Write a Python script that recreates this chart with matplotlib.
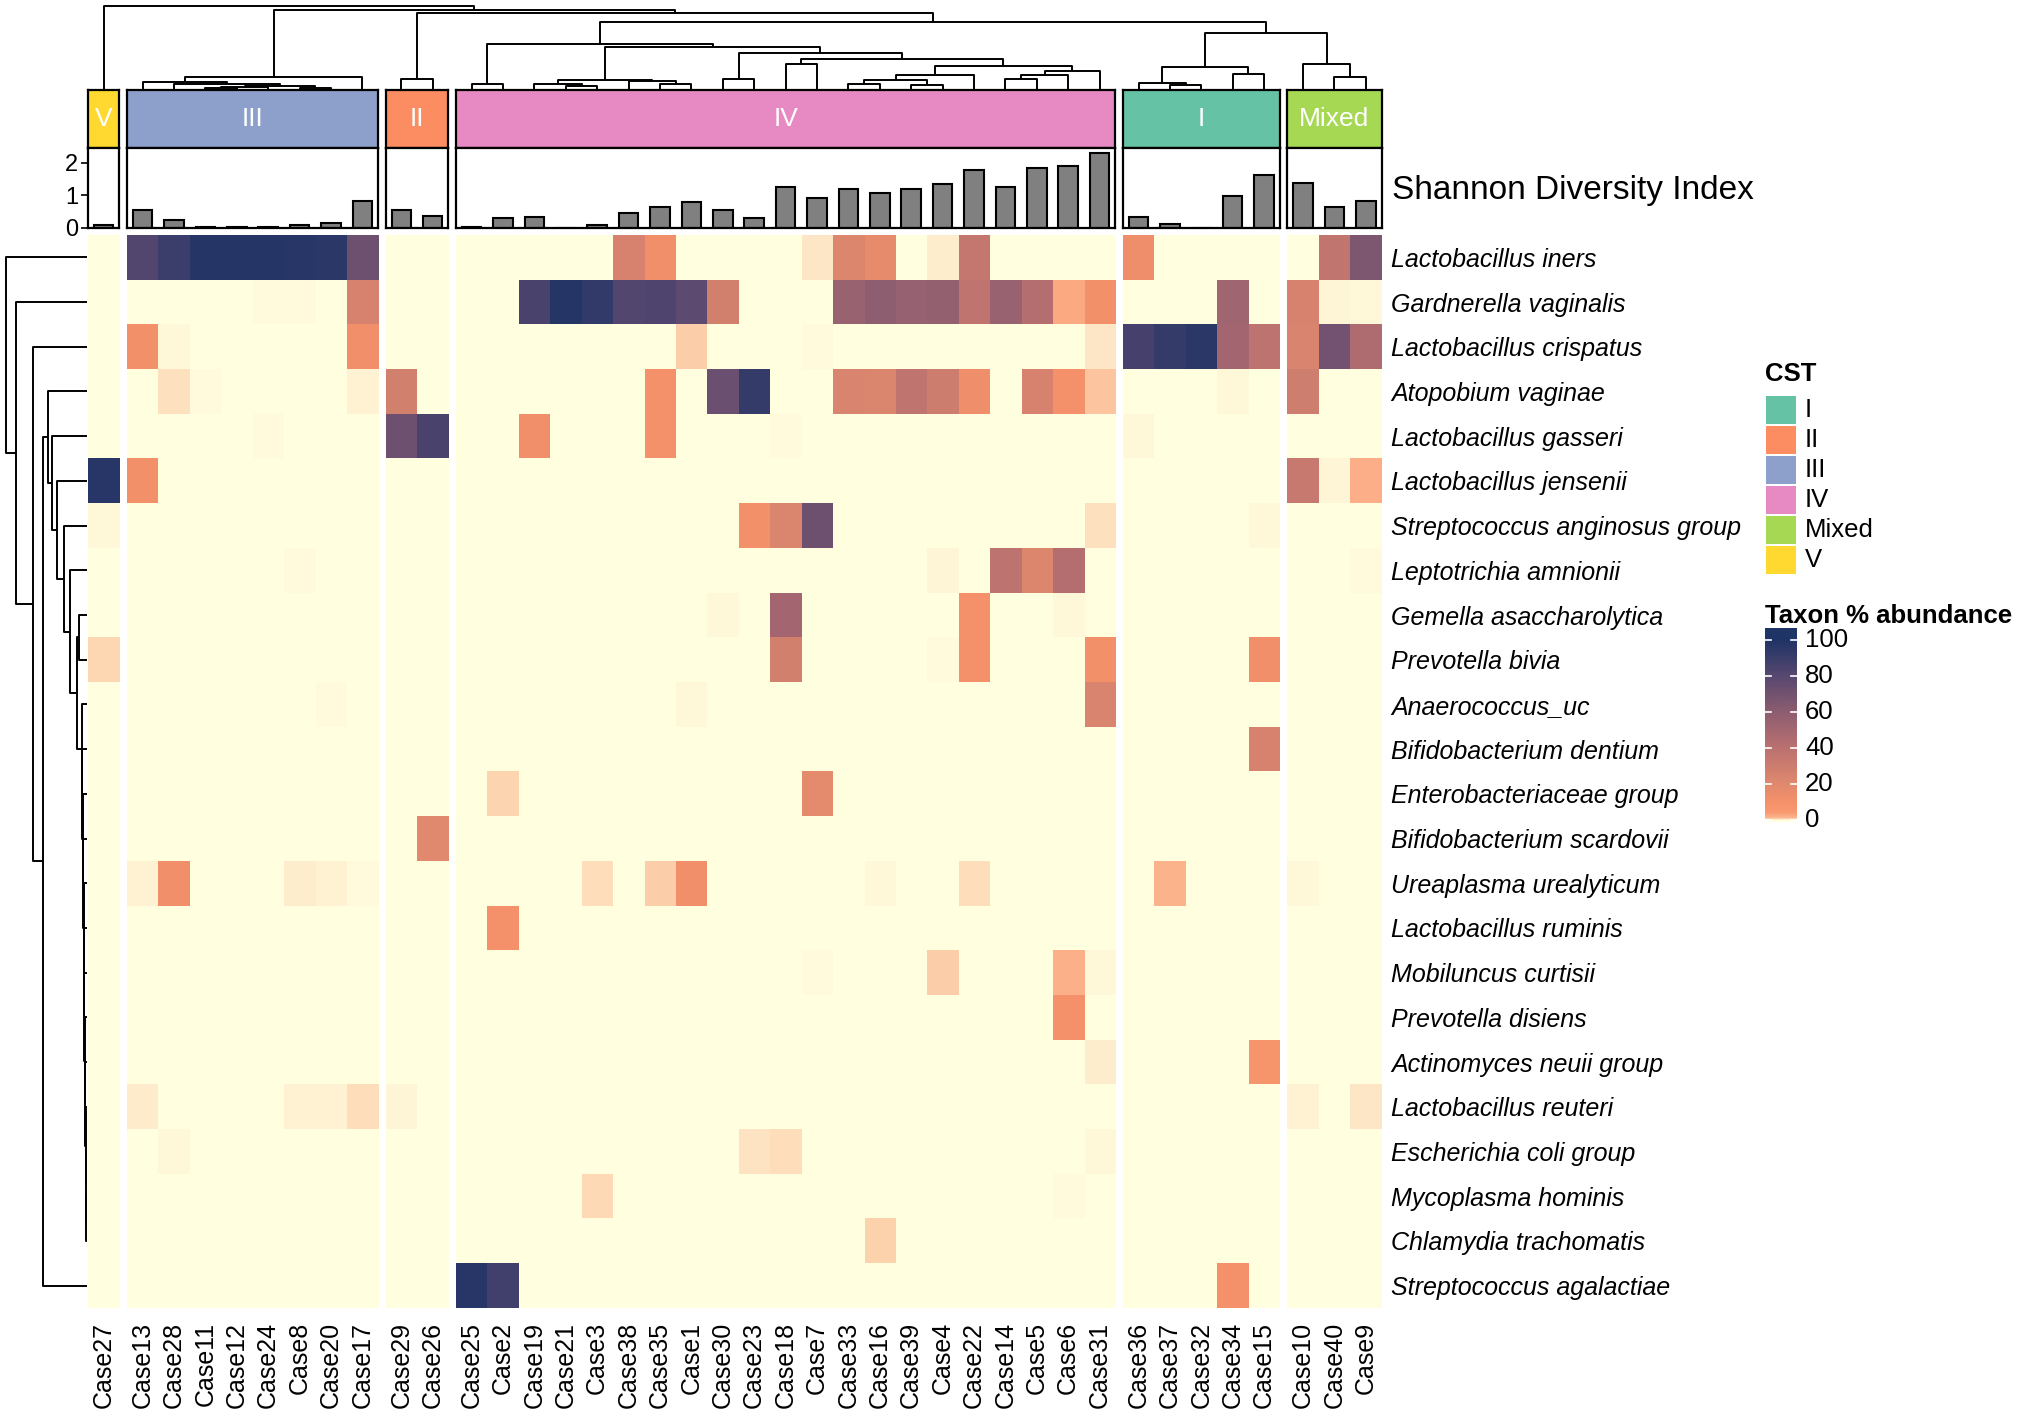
import numpy as np
import matplotlib
matplotlib.use("Agg")
from matplotlib import pyplot as plt
from matplotlib.colors import LinearSegmentedColormap, Normalize
from matplotlib.patches import Rectangle

plt.rcParams["font.family"] = ["Liberation Sans", "DejaVu Sans"]

# ---- data -------------------------------------------------------------
cases = ["Case27",
         "Case13", "Case28", "Case11", "Case12", "Case24", "Case8", "Case20", "Case17",
         "Case29", "Case26",
         "Case25", "Case2", "Case19", "Case21", "Case3", "Case38", "Case35", "Case1",
         "Case30", "Case23", "Case18", "Case7", "Case33", "Case16", "Case39", "Case4",
         "Case22", "Case14", "Case5", "Case6", "Case31",
         "Case36", "Case37", "Case32", "Case34", "Case15",
         "Case10", "Case40", "Case9"]

cst = (["V"] + ["III"] * 8 + ["II"] * 2 + ["IV"] * 21 + ["I"] * 5 + ["Mixed"] * 3)

shannon = [0.10,
           0.54, 0.26, 0.02, 0.02, 0.04, 0.08, 0.16, 0.82,
           0.56, 0.37,
           0.03, 0.31, 0.33, 0.00, 0.10, 0.45, 0.64, 0.79, 0.55, 0.31, 1.26,
           0.93, 1.21, 1.08, 1.21, 1.36, 1.77, 1.26, 1.84, 1.91, 2.32,
           0.33, 0.12, 0.01, 0.97, 1.63,
           1.39, 0.66, 0.82]

taxa = ["Lactobacillus iners", "Gardnerella vaginalis", "Lactobacillus crispatus",
        "Atopobium vaginae", "Lactobacillus gasseri", "Lactobacillus jensenii",
        "Streptococcus anginosus group", "Leptotrichia amnionii",
        "Gemella asaccharolytica", "Prevotella bivia", "Anaerococcus_uc",
        "Bifidobacterium dentium", "Enterobacteriaceae group",
        "Bifidobacterium scardovii", "Ureaplasma urealyticum",
        "Lactobacillus ruminis", "Mobiluncus curtisii", "Prevotella disiens",
        "Actinomyces neuii group", "Lactobacillus reuteri",
        "Escherichia coli group", "Mycoplasma hominis",
        "Chlamydia trachomatis", "Streptococcus agalactiae"]

# taxon % abundance (cells not listed are 0)
abundance = {
    "Lactobacillus iners": {"Case13": 82, "Case28": 90, "Case11": 98, "Case12": 98,
                            "Case24": 98, "Case8": 97, "Case20": 96, "Case17": 72,
                            "Case38": 25, "Case35": 12, "Case7": 0.25, "Case33": 22,
                            "Case16": 17, "Case4": 0.15, "Case22": 35, "Case36": 13,
                            "Case40": 36, "Case9": 66},
    "Gardnerella vaginalis": {"Case17": 25, "Case2": 0.02, "Case19": 85, "Case21": 98,
                              "Case3": 93, "Case38": 82, "Case35": 83, "Case1": 78,
                              "Case30": 27, "Case33": 55, "Case16": 60, "Case39": 56,
                              "Case4": 57, "Case22": 37, "Case14": 55, "Case5": 42,
                              "Case6": 2.5, "Case31": 11, "Case34": 52, "Case10": 25,
                              "Case40": 0.08, "Case9": 0.05, "Case24": 0.03,
                              "Case8": 0.03},
    "Lactobacillus crispatus": {"Case13": 11, "Case28": 0.05, "Case17": 12, "Case1": 0.7,
                                "Case31": 0.25, "Case7": 0.03, "Case36": 86,
                                "Case37": 92, "Case32": 96, "Case34": 50, "Case15": 38,
                                "Case10": 24, "Case40": 70, "Case9": 45},
    "Atopobium vaginae": {"Case28": 0.35, "Case17": 0.12, "Case11": 0.03, "Case29": 27,
                          "Case35": 10, "Case30": 73, "Case23": 92, "Case33": 24,
                          "Case16": 23, "Case39": 37, "Case4": 30, "Case22": 13,
                          "Case5": 25, "Case6": 10, "Case31": 0.9, "Case34": 0.05,
                          "Case10": 29},
    "Lactobacillus gasseri": {"Case24": 0.03, "Case29": 72, "Case26": 85, "Case19": 12,
                              "Case35": 10, "Case18": 0.03, "Case36": 0.05},
    "Lactobacillus jensenii": {"Case27": 97, "Case13": 11, "Case38": 0.02, "Case10": 33,
                               "Case40": 0.08, "Case9": 2},
    "Streptococcus anginosus group": {"Case27": 0.05, "Case23": 11, "Case18": 23,
                                      "Case7": 72, "Case31": 0.35, "Case15": 0.05},
    "Leptotrichia amnionii": {"Case8": 0.03, "Case4": 0.08, "Case14": 38, "Case5": 22,
                              "Case6": 42, "Case9": 0.04},
    "Gemella asaccharolytica": {"Case30": 0.06, "Case18": 50, "Case22": 10,
                                "Case6": 0.05},
    "Prevotella bivia": {"Case27": 0.5, "Case33": 0.02, "Case4": 0.03, "Case18": 27,
                         "Case22": 10, "Case31": 11, "Case15": 12},
    "Anaerococcus_uc": {"Case20": 0.03, "Case1": 0.05, "Case31": 24},
    "Bifidobacterium dentium": {"Case15": 25},
    "Enterobacteriaceae group": {"Case2": 0.55, "Case7": 18},
    "Bifidobacterium scardovii": {"Case26": 20},
    "Ureaplasma urealyticum": {"Case13": 0.1, "Case28": 12, "Case24": 0.02, "Case8": 0.15,
                               "Case20": 0.1, "Case17": 0.03, "Case3": 0.4,
                               "Case35": 0.7, "Case1": 12, "Case16": 0.05,
                               "Case22": 0.4, "Case37": 1.5, "Case10": 0.07},
    "Lactobacillus ruminis": {"Case2": 10},
    "Mobiluncus curtisii": {"Case7": 0.03, "Case4": 0.7, "Case6": 1.8, "Case31": 0.05},
    "Prevotella disiens": {"Case4": 0.02, "Case22": 0.02, "Case6": 10},
    "Actinomyces neuii group": {"Case31": 0.15, "Case15": 8},
    "Lactobacillus reuteri": {"Case13": 0.18, "Case8": 0.12, "Case20": 0.1, "Case17": 0.4,
                              "Case29": 0.08, "Case10": 0.1, "Case9": 0.25},
    "Escherichia coli group": {"Case28": 0.05, "Case25": 0.02, "Case23": 0.3,
                               "Case18": 0.4, "Case31": 0.06},
    "Mycoplasma hominis": {"Case3": 0.45, "Case6": 0.04},
    "Chlamydia trachomatis": {"Case16": 0.6},
    "Streptococcus agalactiae": {"Case25": 97, "Case2": 88, "Case34": 10},
}

cst_levels = ["I", "II", "III", "IV", "Mixed", "V"]
cst_colors = {"I": "#66C2A5", "II": "#FC8D62", "III": "#8DA0CB",
              "IV": "#E78AC3", "Mixed": "#A6D854", "V": "#FFD92F"}

# clustering trees: (left, right, merge height)
col_tree = ("Case27",
            ((("Case13", ("Case28", ((("Case11", "Case12", 1), "Case24", 2),
                                     ("Case8", "Case20", 1), 3), 5), 7), "Case17", 12),
             (("Case29", "Case26", 10),
              ((("Case25", "Case2", 5),
                (((("Case19", ("Case21", "Case3", 3), 5),
                   ("Case38", ("Case35", "Case1", 5), 8), 9)),
                 (("Case30", "Case23", 10),
                  (("Case18", "Case7", 24),
                   (((("Case33", "Case16", 5), ("Case39", "Case4", 4), 9), "Case22", 14),
                    ((("Case14", "Case5", 10), "Case6", 14), "Case31", 18), 22), 29),
                  35), 41), 44),
               ((("Case36", ("Case37", "Case32", 4), 6), ("Case34", "Case15", 15), 21),
                ("Case10", ("Case40", "Case9", 12), 24), 55), 65.5), 74), 77.5), 81)

tail = ("Escherichia coli group", ("Mycoplasma hominis", "Chlamydia trachomatis", 0.6), 1.0)
for name, h in [("Lactobacillus reuteri", 1.4), ("Actinomyces neuii group", 1.8),
                ("Prevotella disiens", 2.2), ("Mobiluncus curtisii", 2.6),
                ("Lactobacillus ruminis", 3.0), ("Ureaplasma urealyticum", 3.4),
                ("Bifidobacterium scardovii", 3.8), ("Enterobacteriaceae group", 4.2),
                ("Bifidobacterium dentium", 4.6), ("Anaerococcus_uc", 5.2)]:
    tail = (name, tail, h)

row_tree = ("Lactobacillus iners",
            ("Gardnerella vaginalis",
             ("Lactobacillus crispatus",
              (("Atopobium vaginae",
                ("Lactobacillus gasseri",
                 ("Lactobacillus jensenii",
                  ("Streptococcus anginosus group",
                   ("Leptotrichia amnionii",
                    (("Gemella asaccharolytica", "Prevotella bivia", 8), tail, 10),
                    17), 23), 30), 35), 39),
               "Streptococcus agalactiae", 44), 54), 71), 81)

# ---- colours ------------------------------------------------------------
cmap = LinearSegmentedColormap.from_list(
    "abund",
    [(0.0, "#FFFFE0"), (0.0004, "#FFF8DA"), (0.0015, "#FEEDCD"), (0.005, "#FDD6B2"),
     (0.012, "#FCB690"), (0.04, "#F99A71"),
     (0.10, "#F5916A"), (0.20, "#E0896E"), (0.40, "#BA7170"), (0.60, "#8D5D70"),
     (0.80, "#584870"), (1.0, "#1F3466")], N=4096)
norm = Normalize(0, 100)

# ---- layout (pixels) ------------------------------------------------------
W, H = 2032, 1418
fig = plt.figure(figsize=(W / 100, H / 100), dpi=100)


def add_ax(x, y, w, h):
    return fig.add_axes([x / W, 1 - (y + h) / H, w / W, h / H])


HX0, HY0, HY1 = 88, 235, 1308
cell, gap = 31.4, 7.5

mat = np.zeros((len(taxa), len(cases)))
for r, t in enumerate(taxa):
    for c, v in abundance[t].items():
        mat[r, cases.index(c)] = v

runs = []
for i, c in enumerate(cst):
    if runs and runs[-1][0] == c:
        runs[-1][2] = i + 1
    else:
        runs.append([c, i, i + 1])

centers = {}
x = HX0
for run in runs:
    name, i0, i1 = run
    n = i1 - i0
    wid = n * cell
    run.append(x)
    for j in range(n):
        centers[cases[i0 + j]] = x + (j + 0.5) * cell
    x += wid + gap
HX1 = x - gap

for k, (name, i0, i1, x0) in enumerate(runs):
    n = i1 - i0
    wid = n * cell
    # annotation
    axa = add_ax(x0, 90, wid, 58)
    axa.set_facecolor(cst_colors[name])
    axa.set_xticks([]); axa.set_yticks([])
    axa.text(0.5, 0.5, name, color="white", fontsize=19, ha="center", va="center",
             transform=axa.transAxes)
    for s in axa.spines.values():
        s.set_linewidth(1.6)
    # shannon bars
    axs = add_ax(x0, 148, wid, 80)
    axs.bar(np.arange(n), shannon[i0:i1], width=0.62, color="#808080",
            edgecolor="black", linewidth=1.5)
    axs.set_xlim(-0.5, n - 0.5)
    axs.set_ylim(0, 2.46)
    axs.set_xticks([])
    for s in axs.spines.values():
        s.set_linewidth(1.6)
    if k == 0:
        axs.set_yticks([0, 1, 2])
        axs.tick_params(axis="y", labelsize=17, length=5, width=1.2, pad=2)
    else:
        axs.set_yticks([])
    # heatmap
    axh = add_ax(x0, HY0, wid, HY1 - HY0)
    axh.imshow(mat[:, i0:i1], cmap=cmap, norm=norm, aspect="auto",
               interpolation="nearest")
    for s in axh.spines.values():
        s.set_visible(False)
    axh.set_xticks(np.arange(n))
    axh.set_xticklabels(cases[i0:i1], rotation=90, fontsize=18)
    axh.tick_params(axis="x", length=0, pad=10)
    if k == len(runs) - 1:
        axh.yaxis.tick_right()
        axh.set_yticks(np.arange(len(taxa)))
        axh.set_yticklabels(taxa, fontsize=18, fontstyle="italic")
        axh.tick_params(axis="y", length=0, pad=7)
    else:
        axh.set_yticks([])

fig.text((HX1 + 10) / W, 1 - 190 / H, "Shannon Diversity Index", fontsize=24,
         ha="left", va="center")


# ---- dendrograms ------------------------------------------------------------
def draw_tree(ax, node, pos, horizontal):
    if isinstance(node, str):
        return pos[node], 0
    left, right, h = node
    pl, hl = draw_tree(ax, left, pos, horizontal)
    pr, hr = draw_tree(ax, right, pos, horizontal)
    xs, ys = [pl, pl, pr, pr], [hl, h, h, hr]
    if horizontal:
        ax.plot(ys, xs, color="black", lw=1.4, solid_capstyle="butt")
    else:
        ax.plot(xs, ys, color="black", lw=1.4, solid_capstyle="butt")
    return (pl + pr) / 2, h


axd = add_ax(HX0, 4, HX1 - HX0, 85)
draw_tree(axd, col_tree, centers, False)
axd.set_xlim(HX0, HX1)
axd.set_ylim(0, 83)
axd.axis("off")

axr = add_ax(0, HY0, 87, HY1 - HY0)
draw_tree(axr, row_tree, {t: i for i, t in enumerate(taxa)}, True)
axr.set_xlim(87, 0)
axr.set_ylim(len(taxa) - 0.5, -0.5)
axr.axis("off")

# ---- legends ----------------------------------------------------------------
leg = add_ax(1740, 340, 292, 500)
leg.set_xlim(1740, 2032)
leg.set_ylim(840, 340)
leg.axis("off")
leg.text(1765, 374, "CST", fontsize=18.5, fontweight="bold", va="center")
for i, lv in enumerate(cst_levels):
    y0 = 396 + i * 30
    leg.add_patch(Rectangle((1766, y0), 30, 28, facecolor=cst_colors[lv],
                            edgecolor="none"))
    leg.text(1805, y0 + 14, lv, fontsize=18.5, va="center")
leg.text(1765, 616, "Taxon % abundance", fontsize=18.5, fontweight="bold",
         va="center")

cax = add_ax(1765, 628, 32, 194)
lo, hi = -1.1, 106.7
grad = np.linspace(lo, hi, 400).reshape(-1, 1)
cax.imshow(grad, origin="lower", extent=[0, 1, lo, hi], aspect="auto",
           cmap=cmap, norm=norm)
cax.set_xlim(0, 1)
cax.set_ylim(lo, hi)
cax.axis("off")
for t in [0, 20, 40, 60, 80, 100]:
    cax.plot([0, 0.2], [t, t], color="white", lw=1.2)
    cax.plot([0.8, 1], [t, t], color="white", lw=1.2)
    leg.text(1805, 820 - t * 1.8, str(t), fontsize=18.5, va="center")

fig.savefig("out.png", dpi=100)
